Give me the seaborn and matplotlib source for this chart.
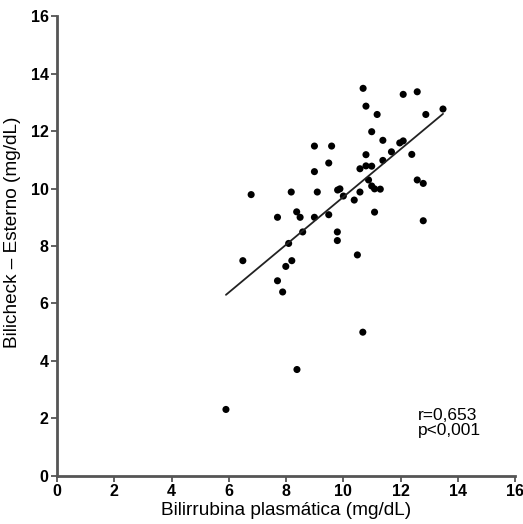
import numpy as np
import pandas as pd
import matplotlib
matplotlib.use("Agg")
import matplotlib.pyplot as plt
import seaborn as sns

# ── Data ──────────────────────────────────────────────────────────────────────
bili_plasma = [10.69, 12.09, 12.58, 10.79, 11.18, 12.88, 13.48, 10.99, 11.38, 11.97,
               12.09, 8.99, 9.59, 11.68, 10.79, 12.39, 9.49, 11.38, 8.99, 10.58,
               10.79, 10.99, 10.88, 12.58, 12.79, 10.99, 11.09, 11.29, 9.09, 9.80,
               9.88, 10.00, 10.58, 10.38, 8.99, 9.49, 8.58, 11.09, 12.79, 9.79,
               9.79, 10.49, 10.68, 8.37, 8.49, 7.70, 8.09, 6.49, 8.20, 7.99,
               7.70, 7.88, 6.78, 8.18, 5.90, 8.38]
bilicheck = [13.49, 13.28, 13.37, 12.87, 12.58, 12.58, 12.77, 11.98, 11.68, 11.59,
             11.66, 11.48, 11.48, 11.28, 11.18, 11.19, 10.89, 10.98, 10.59, 10.69,
             10.79, 10.78, 10.30, 10.30, 10.18, 10.09, 9.99, 9.98, 9.88, 9.95,
             9.99, 9.74, 9.88, 9.60, 9.00, 9.09, 8.49, 9.18, 8.88, 8.49,
             8.19, 7.69, 5.00, 9.19, 9.00, 9.00, 8.09, 7.49, 7.49, 7.29,
             6.79, 6.40, 9.79, 9.88, 2.31, 3.70]
ticks = [0, 2, 4, 6, 8, 10, 12, 14, 16]
stats_text = "r=0,653\np<0,001"

df = pd.DataFrame({"x": bili_plasma, "y": bilicheck})

sns.set_style("ticks")
plt.rcParams["font.family"] = ["Liberation Sans", "DejaVu Sans"]
plt.rcParams["text.color"] = "black"
plt.rcParams["axes.labelcolor"] = "black"
plt.rcParams["xtick.labelcolor"] = "black"
plt.rcParams["ytick.labelcolor"] = "black"

fig = plt.figure(figsize=(5.23, 5.24), dpi=100)
ax = fig.add_axes([0.109, 0.092, 0.876, 0.877])

sns.regplot(data=df, x="x", y="y", ax=ax, ci=None, truncate=True,
            scatter_kws=dict(s=26, color="black", edgecolor="none", alpha=1),
            line_kws=dict(color="#222222", lw=1.3))

ax.set_xlim(0, 16)
ax.set_ylim(0, 16)
ax.set_xticks(ticks)
ax.set_yticks(ticks)
ax.tick_params(axis="both", length=4, width=1.3, color="#555555",
               labelsize=11.5, pad=2)
for lab in ax.get_xticklabels() + ax.get_yticklabels():
    lab.set_fontweight("bold")
for side in ["left", "bottom"]:
    ax.spines[side].set_linewidth(2)
    ax.spines[side].set_color("#555555")
sns.despine(ax=ax)

ax.set_xlabel("Bilirrubina plasmática (mg/dL)", fontsize=13.7, labelpad=2)
ax.set_ylabel("Bilicheck – Esterno (mg/dL)", fontsize=13.7)
ax.yaxis.set_label_coords(-0.078, 0.53)

ax.text(12.6, 1.3, stats_text, fontsize=12.5, linespacing=1.0, va="bottom")

fig.savefig("out.png", dpi=100)
